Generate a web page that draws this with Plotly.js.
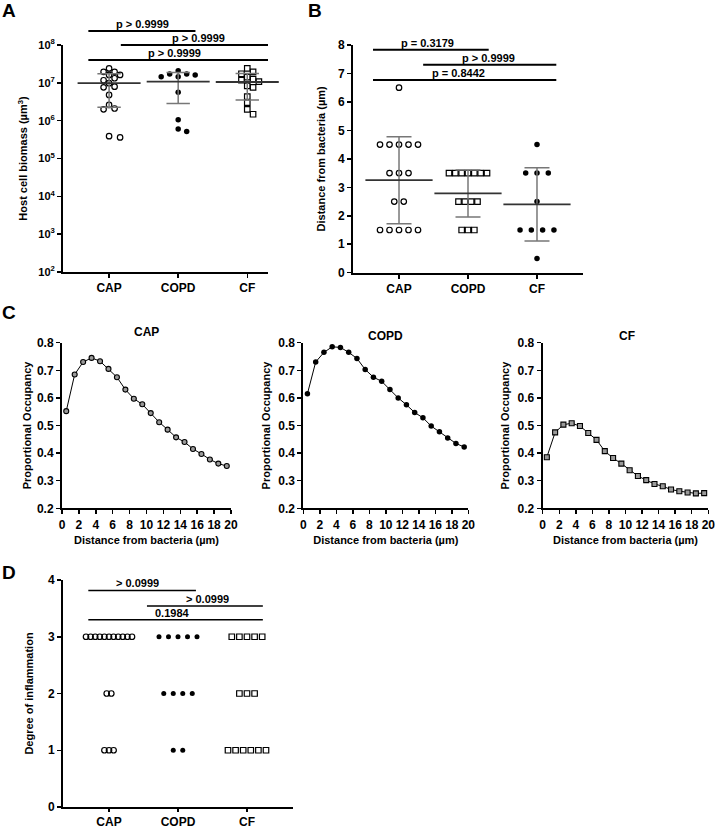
<!DOCTYPE html>
<html><head><meta charset="utf-8">
<script src="https://cdn.plot.ly/plotly-3.0.1.min.js"></script>
<style>html,body{margin:0;padding:0;background:#fff;} #chart{width:715px;height:829px;}</style>
</head><body><div id="chart"></div>
<script>
// ---------- DATA ----------
const categories = ['CAP', 'COPD', 'CF'];

// Panel A: host cell biomass (µm³)
const biomassCAP  = [2.4e7, 1.62e7, 1.95e7, 1.95e7, 1.62e7, 1.17e7, 9.8e6, 1.32e7, 7.9e6, 7.6e6, 4.8e6, 2.6e6, 2.1e6, 2.0e6, 3.9e5, 3.6e5];
const biomassCOPD = [1.45e7, 1.45e7, 2.1e7, 1.7e7, 1.7e7, 1.62e7, 5.6e6, 1.05e6, 6.0e5, 5.2e5];
const biomassCF   = [1.95e7, 2.4e7, 1.74e7, 1.41e7, 1.26e7, 1.17e7, 1.07e7, 7.6e6, 8.3e6, 4.3e6, 3.0e6, 2.0e6, 1.48e6];
const biomassTickVals = [1e2, 1e3, 1e4, 1e5, 1e6, 1e7, 1e8];
const biomassTickText = ['10<sup>2</sup>', '10<sup>3</sup>', '10<sup>4</sup>', '10<sup>5</sup>', '10<sup>6</sup>', '10<sup>7</sup>', '10<sup>8</sup>'];
const sigA_labels = ['p > 0.9999', 'p > 0.9999', 'p > 0.9999'];

// Panel B: distance from bacteria (µm)
const distCAP  = [6.5, 4.5, 4.5, 4.5, 4.5, 4.5, 3.5, 3.5, 3.5, 2.5, 2.5, 1.5, 1.5, 1.5, 1.5, 1.5];
const distCOPD = [3.5, 3.5, 3.5, 3.5, 3.5, 3.5, 3.5, 2.5, 2.5, 2.5, 2.5, 1.5, 1.5, 1.5];
const distCF   = [4.5, 3.5, 3.5, 3.5, 2.5, 1.5, 1.5, 1.5, 1.5, 0.5];
const sigB_labels = ['p = 0.3179', 'p > 0.9999', 'p = 0.8442'];

// Panel C: proportional occupancy vs distance
const distanceBins = [0.5, 1.5, 2.5, 3.5, 4.5, 5.5, 6.5, 7.5, 8.5, 9.5, 10.5, 11.5, 12.5, 13.5, 14.5, 15.5, 16.5, 17.5, 18.5, 19.5];
const occCAP  = [0.552, 0.685, 0.730, 0.745, 0.733, 0.705, 0.675, 0.630, 0.597, 0.577, 0.545, 0.512, 0.485, 0.457, 0.440, 0.415, 0.397, 0.377, 0.362, 0.353];
const occCOPD = [0.615, 0.730, 0.765, 0.785, 0.783, 0.765, 0.743, 0.703, 0.675, 0.660, 0.630, 0.600, 0.575, 0.547, 0.528, 0.498, 0.477, 0.455, 0.435, 0.422];
const occCF   = [0.385, 0.475, 0.503, 0.508, 0.498, 0.473, 0.448, 0.407, 0.382, 0.362, 0.338, 0.317, 0.302, 0.288, 0.280, 0.268, 0.262, 0.257, 0.254, 0.255];

// Panel D: degree of inflammation
const inflCAP  = [3, 3, 3, 3, 3, 3, 3, 3, 3, 3, 3, 2, 2, 1, 1, 1];
const inflCOPD = [3, 3, 3, 3, 3, 2, 2, 2, 2, 1, 1];
const inflCF   = [3, 3, 3, 3, 3, 2, 2, 2, 1, 1, 1, 1, 1, 1];
const sigD_labels = ['> 0.0999', '> 0.0999', '0.1984'];

// ---------- HELPERS ----------
const W = 715, H = 829;
const FONT = 'Liberation Sans, Arial, Helvetica, sans-serif';
const xd = (a, b) => [a / W, b / W];
const yd = (top, bottom) => [1 - bottom / H, 1 - top / H];
const mean = a => a.reduce((s, v) => s + v, 0) / a.length;
const sd = a => { const m = mean(a); return Math.sqrt(a.reduce((s, v) => s + (v - m) * (v - m), 0) / (a.length - 1)); };
const F = (size, extra) => Object.assign({family: FONT, size: size, color: '#000', weight: 'bold'}, extra || {});

function swarm(vals, toPx, step, diam) {
  const placed = [], out = [];
  const order = vals.map((v, i) => i).sort((a, b) => vals[b] - vals[a]);
  for (const i of order) {
    const y = toPx(vals[i]); let chosen = 0;
    for (let k = 0; k < 15; k++) {
      const cands = k === 0 ? [0] : [k * step, -k * step];
      let ok = null;
      for (const c of cands) {
        if (!placed.some(p => (p.x - c) ** 2 + (p.y - y) ** 2 < diam * diam)) { ok = c; break; }
      }
      if (ok !== null) { chosen = ok; break; }
    }
    placed.push({x: chosen, y: y}); out[i] = chosen;
  }
  return out;
}
function rows(vals, width, minS, maxS) {
  const counts = {}; vals.forEach(v => counts[v] = (counts[v] || 0) + 1);
  const maxRow = Math.max(...Object.values(counts));
  const sp = maxRow > 1 ? Math.min(maxS, Math.max(minS, width / (maxRow - 1))) : 0;
  const seen = {};
  return vals.map(v => { const n = counts[v]; const i = (seen[v] = (seen[v] || 0) + 1) - 1; return (i - (n - 1) / 2) * sp; });
}

// ---------- GEOMETRY ----------
const A = {x: [63, 268], y: [45, 272], xr: [-0.667, 2.30]};
const B = {x: [353, 583], y: [45, 272.7], xr: [-0.667, 2.667]};
const D = {x: [63, 293], y: [580, 807], xr: [-0.667, 2.667]};
const Cy = [342.7, 508.3];
const C1x = [62, 231], C2x = [303.3, 468.3], C3x = [542.7, 708.3];
const ppu = g => (g.x[1] - g.x[0]) / (g.xr[1] - g.xr[0]);

const traces = [];
const openCircle = (size) => ({symbol: 'circle-open', size: size, color: '#000', line: {width: 1.2, color: '#000'}});
const filledCircle = (size) => ({symbol: 'circle', size: size, color: '#000', line: {width: 0}});
const openSquare = (size) => ({symbol: 'square-open', size: size, color: '#000', line: {width: 1.2, color: '#000'}});

function dotGroup(vals, idx, offsPx, g, marker, xa, ya) {
  const u = ppu(g);
  traces.push({type: 'scatter', mode: 'markers', x: vals.map((v, i) => idx + offsPx[i] / u), y: vals,
    marker: marker, xaxis: xa, yaxis: ya, hoverinfo: 'skip', cliponaxis: false});
}
function meanSD(groups, g, xa, ya, len, capHalf) {
  traces.push({type: 'scatter', mode: 'markers', x: [0, 1, 2], y: groups.map(mean),
    marker: {symbol: 'line-ew', size: len, color: '#333', line: {color: '#333', width: 1.8}},
    error_y: {type: 'data', array: groups.map(sd), visible: true, color: '#777', thickness: 1.5, width: capHalf},
    xaxis: xa, yaxis: ya, hoverinfo: 'skip', cliponaxis: false});
}

// Panel A
const logPx = v => Math.log10(v) * (A.y[1] - A.y[0]) / 6;
dotGroup(biomassCAP, 0, swarm(biomassCAP, logPx, 5.5, 5.8), A, openCircle(5.5), 'x', 'y');
dotGroup(biomassCOPD, 1, swarm(biomassCOPD, logPx, 8.5, 5.8), A, filledCircle(5.5), 'x', 'y');
dotGroup(biomassCF, 2, swarm(biomassCF, logPx, 5.8, 5.8), A, openSquare(5.5), 'x', 'y');
meanSD([biomassCAP, biomassCOPD, biomassCF], A, 'x', 'y', 45, 11.7);

// Panel B
dotGroup(distCAP, 0, rows(distCAP, 38, 4.6, 11.3), B, openCircle(5.5), 'x2', 'y2');
dotGroup(distCOPD, 1, rows(distCOPD, 38, 4.6, 11.3), B, openSquare(5.5), 'x2', 'y2');
dotGroup(distCF, 2, rows(distCF, 38, 4.6, 11.3), B, filledCircle(5.5), 'x2', 'y2');
meanSD([distCAP, distCOPD, distCF], B, 'x2', 'y2', 48, 12.5);

// Panel C
const lineTrace = (y, marker, xa, ya) => ({type: 'scatter', mode: 'lines+markers', x: distanceBins, y: y,
  line: {color: '#000', width: 1}, marker: marker, xaxis: xa, yaxis: ya, hoverinfo: 'skip', cliponaxis: false});
traces.push(lineTrace(occCAP, {symbol: 'circle', size: 5, color: '#9a9a9a', line: {color: '#000', width: 1.1}}, 'x3', 'y3'));
traces.push(lineTrace(occCOPD, {symbol: 'circle', size: 5.5, color: '#000', line: {width: 0}}, 'x4', 'y4'));
traces.push(lineTrace(occCF, {symbol: 'square', size: 5, color: '#9a9a9a', line: {color: '#000', width: 1.1}}, 'x5', 'y5'));

// Panel D
dotGroup(inflCAP, 0, rows(inflCAP, 38, 4.6, 11.3), D, openCircle(5.5), 'x6', 'y6');
dotGroup(inflCOPD, 1, rows(inflCOPD, 38, 4.6, 11.3), D, filledCircle(5), 'x6', 'y6');
dotGroup(inflCF, 2, rows(inflCF, 38, 4.6, 11.3), D, openSquare(5.5), 'x6', 'y6');

// ---------- AXES ----------
function ax(extra) {
  return Object.assign({showline: true, linecolor: '#000', linewidth: 2, ticks: 'outside', ticklen: 4, tickwidth: 1.5,
    tickcolor: '#000', showgrid: false, zeroline: false, fixedrange: true, ticklabeloverflow: 'allow', tickfont: F(12)}, extra);
}
const catAxis = (g, anchor, tl) => ax({domain: xd(g.x[0], g.x[1]), range: g.xr, tickvals: [0, 1, 2], ticktext: categories, anchor: anchor, ticklen: tl || 4});
const cX = (dom, anchor) => ax({domain: xd(dom[0], dom[1]), range: [0, 20], tick0: 0, dtick: 2, anchor: anchor,
  title: {text: 'Distance from bacteria (µm)', font: F(11), standoff: 6}});
const cY = (anchor, st) => ax({domain: yd(Cy[0], Cy[1]), range: [0.2, 0.8], tick0: 0.2, dtick: 0.1, tickformat: '.1f', anchor: anchor,
  title: {text: 'Proportional Occupancy', font: F(11), standoff: st}});

const layout = {
  width: W, height: H, margin: {l: 0, r: 0, t: 0, b: 0}, paper_bgcolor: '#fff', plot_bgcolor: '#fff',
  showlegend: false, hovermode: false, font: F(12),
  xaxis: catAxis(A, 'y'),
  yaxis: ax({type: 'log', domain: yd(A.y[0], A.y[1]), range: [2, 8], tickvals: biomassTickVals, ticktext: biomassTickText,
    tickfont: F(11), anchor: 'x', title: {text: 'Host cell biomass (µm<sup>3</sup>)', font: F(11), standoff: 8}}),
  xaxis2: catAxis(B, 'y2'),
  yaxis2: ax({domain: yd(B.y[0], B.y[1]), range: [0, 8], dtick: 1, anchor: 'x2',
    title: {text: 'Distance from bacteria (µm)', font: F(11), standoff: 10}}),
  xaxis3: cX(C1x, 'y3'), yaxis3: cY('x3', 3),
  xaxis4: cX(C2x, 'y4'), yaxis4: cY('x4', 5),
  xaxis5: cX(C3x, 'y5'), yaxis5: cY('x5', 6),
  xaxis6: catAxis(D, 'y6', 3),
  yaxis6: ax({domain: yd(D.y[0], D.y[1]), range: [0, 4], dtick: 1, anchor: 'x6',
    title: {text: 'Degree of inflammation', font: F(11), standoff: 12}}),
  shapes: [], annotations: []
};

// significance bars (positions in category units / domain fractions)
function sig(labels, bars, xa, ya, width) {
  bars.forEach((b, i) => {
    layout.shapes.push({type: 'line', xref: xa, yref: ya + ' domain', x0: b[0], x1: b[1], y0: b[2], y1: b[2],
      line: {color: '#000', width: width}});
    layout.annotations.push({xref: xa, yref: ya + ' domain', x: b[3], y: b[2], text: labels[i], showarrow: false,
      xanchor: 'center', yanchor: 'bottom', yshift: -1, font: F(11)});
  });
}
sig(sigA_labels, [[-0.30, 1.25, 1.062, 0.478], [0.17, 2.30, 1.0, 1.30], [-0.30, 2.30, 0.934, 0.94]], 'x', 'y', 2);
sig(sigB_labels, [[-0.377, 1.30, 0.979, 0.42], [0.35, 2.28, 0.913, 1.30], [-0.377, 2.28, 0.846, 0.855]], 'x2', 'y2', 2);
sig(sigD_labels, [[-0.30, 1.26, 0.954, 0.417], [0.55, 2.23, 0.886, 1.43], [-0.30, 2.23, 0.825, 0.92]], 'x6', 'y6', 1.5);

// panel letters and subplot titles
const txt = (text, px, py, size) => ({xref: 'paper', yref: 'paper', x: px / W, y: 1 - py / H, text: text, showarrow: false,
  xanchor: 'center', yanchor: 'middle', font: F(size)});
layout.annotations.push(txt('A', 9, 11, 19), txt('B', 315, 11, 19), txt('C', 9, 312, 19), txt('D', 9, 572, 19));
layout.annotations.push(txt('CAP', 146.7, 332, 12), txt('COPD', 386, 336, 12), txt('CF', 626.7, 336, 12));

Plotly.newPlot('chart', traces, layout, {staticPlot: true, displayModeBar: false});
</script>
</body></html>
